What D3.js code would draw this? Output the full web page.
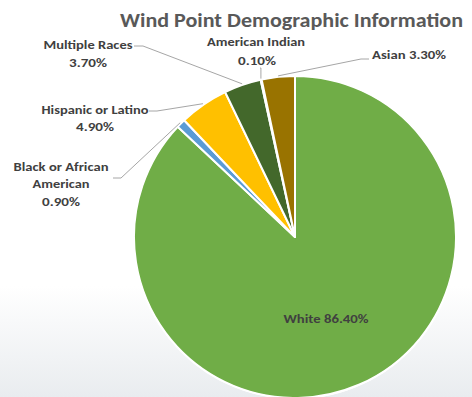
<!DOCTYPE html>
<html><head><meta charset="utf-8">
<script src="https://cdn.jsdelivr.net/npm/d3@7"></script>
<style>html,body{margin:0;padding:0;background:#fff;}svg{display:block;}</style>
</head><body>
<script>
const categories = ["White","Black or African American","Hispanic or Latino","Multiple Races","American Indian","Asian"];
const values = [86.4, 0.9, 4.9, 3.7, 0.1, 3.3];
const valueLabels = ["86.40%","0.90%","4.90%","3.70%","0.10%","3.30%"];
const colors = ["#70ad47","#5b9bd5","#ffc000","#43682b","#264478","#997300"];
const title = "Wind Point Demographic Information";

const W = 472, H = 397;
const cx = 295, cy = 237, R = 161;
const font = "Carlito, Lato, 'Open Sans', sans-serif";

const svg = d3.select("body").append("svg").attr("width", W).attr("height", H);
const defs = svg.append("defs");
const g0 = defs.append("linearGradient").attr("id","bg").attr("x1",0).attr("y1",0).attr("x2",0).attr("y2",1);
g0.append("stop").attr("offset","0.72").attr("stop-color","#ffffff");
g0.append("stop").attr("offset","1").attr("stop-color","#e9ecef");
svg.append("rect").attr("width",W).attr("height",H).attr("fill","url(#bg)");

function fitText(sel, w) { sel.attr("textLength", w).attr("lengthAdjust","spacingAndGlyphs"); return sel; }

svg.append("text").attr("x",120).attr("y",27).attr("font-family",font).attr("font-weight","bold")
  .attr("font-size",21).attr("fill","#595959").text(title).call(fitText, 343);

const pie = d3.pie().sort(null).value(d => d)(values);
const arc = d3.arc().innerRadius(0).outerRadius(R);
const pg = svg.append("g").attr("transform",`translate(${cx},${cy})`);
pg.selectAll("path").data(pie).join("path")
  .attr("d", arc).attr("fill",(d,i)=>colors[i])
  .attr("stroke","#fff").attr("stroke-width",2).attr("stroke-linejoin","round");
pg.append("circle").attr("r",R+0.5).attr("fill","none").attr("stroke","#fff").attr("stroke-width",1.5);

// leader lines: label-side anchor points, slice end from arc geometry
const leaders = {
  1: [[113,178],[121,178]],
  2: [[149,111],[157,111]],
  3: [[134,46],[143,46]],
  4: [[260,68]],
  5: [[369,59],[361,59]]
};
const edge = d3.arc().innerRadius(R+1).outerRadius(R+1);
Object.entries(leaders).forEach(([k, pts]) => {
  const d = pie[+k];
  const a = (d.startAngle + d.endAngle)/2;
  const ex = cx + (R+1)*Math.sin(a), ey = cy - (R+1)*Math.cos(a);
  let p = pts.slice();
  if (+k === 4) p.push([ex, 68]);
  p.push([ex, ey]);
  svg.append("path").attr("d", d3.line()(p)).attr("fill","none").attr("stroke","#a6a6a6").attr("stroke-width",1);
});

const lab = (x, y, t, w, anchor="middle", size=12) => {
  const s = svg.append("text").attr("x",x).attr("y",y).attr("text-anchor",anchor)
    .attr("font-family",font).attr("font-weight","bold").attr("font-size",size)
    .attr("fill","#404040").text(t);
  if (w) s.call(fitText, w);
};
lab(88, 49, categories[3], 89);
lab(88, 67, valueLabels[3], 38);
lab(256, 46, categories[4], 98);
lab(257, 65, valueLabels[4], 38);
lab(372, 59, categories[5] + " " + valueLabels[5], 74, "start");
lab(95, 114, categories[2], 107);
lab(95, 131, valueLabels[2], 38);
lab(61, 171, "Black or African", 95);
lab(61, 188, "American", 57);
lab(61, 206, valueLabels[1], 38);
lab(326, 323, categories[0] + " " + valueLabels[0], 85);
</script>
</body></html>
